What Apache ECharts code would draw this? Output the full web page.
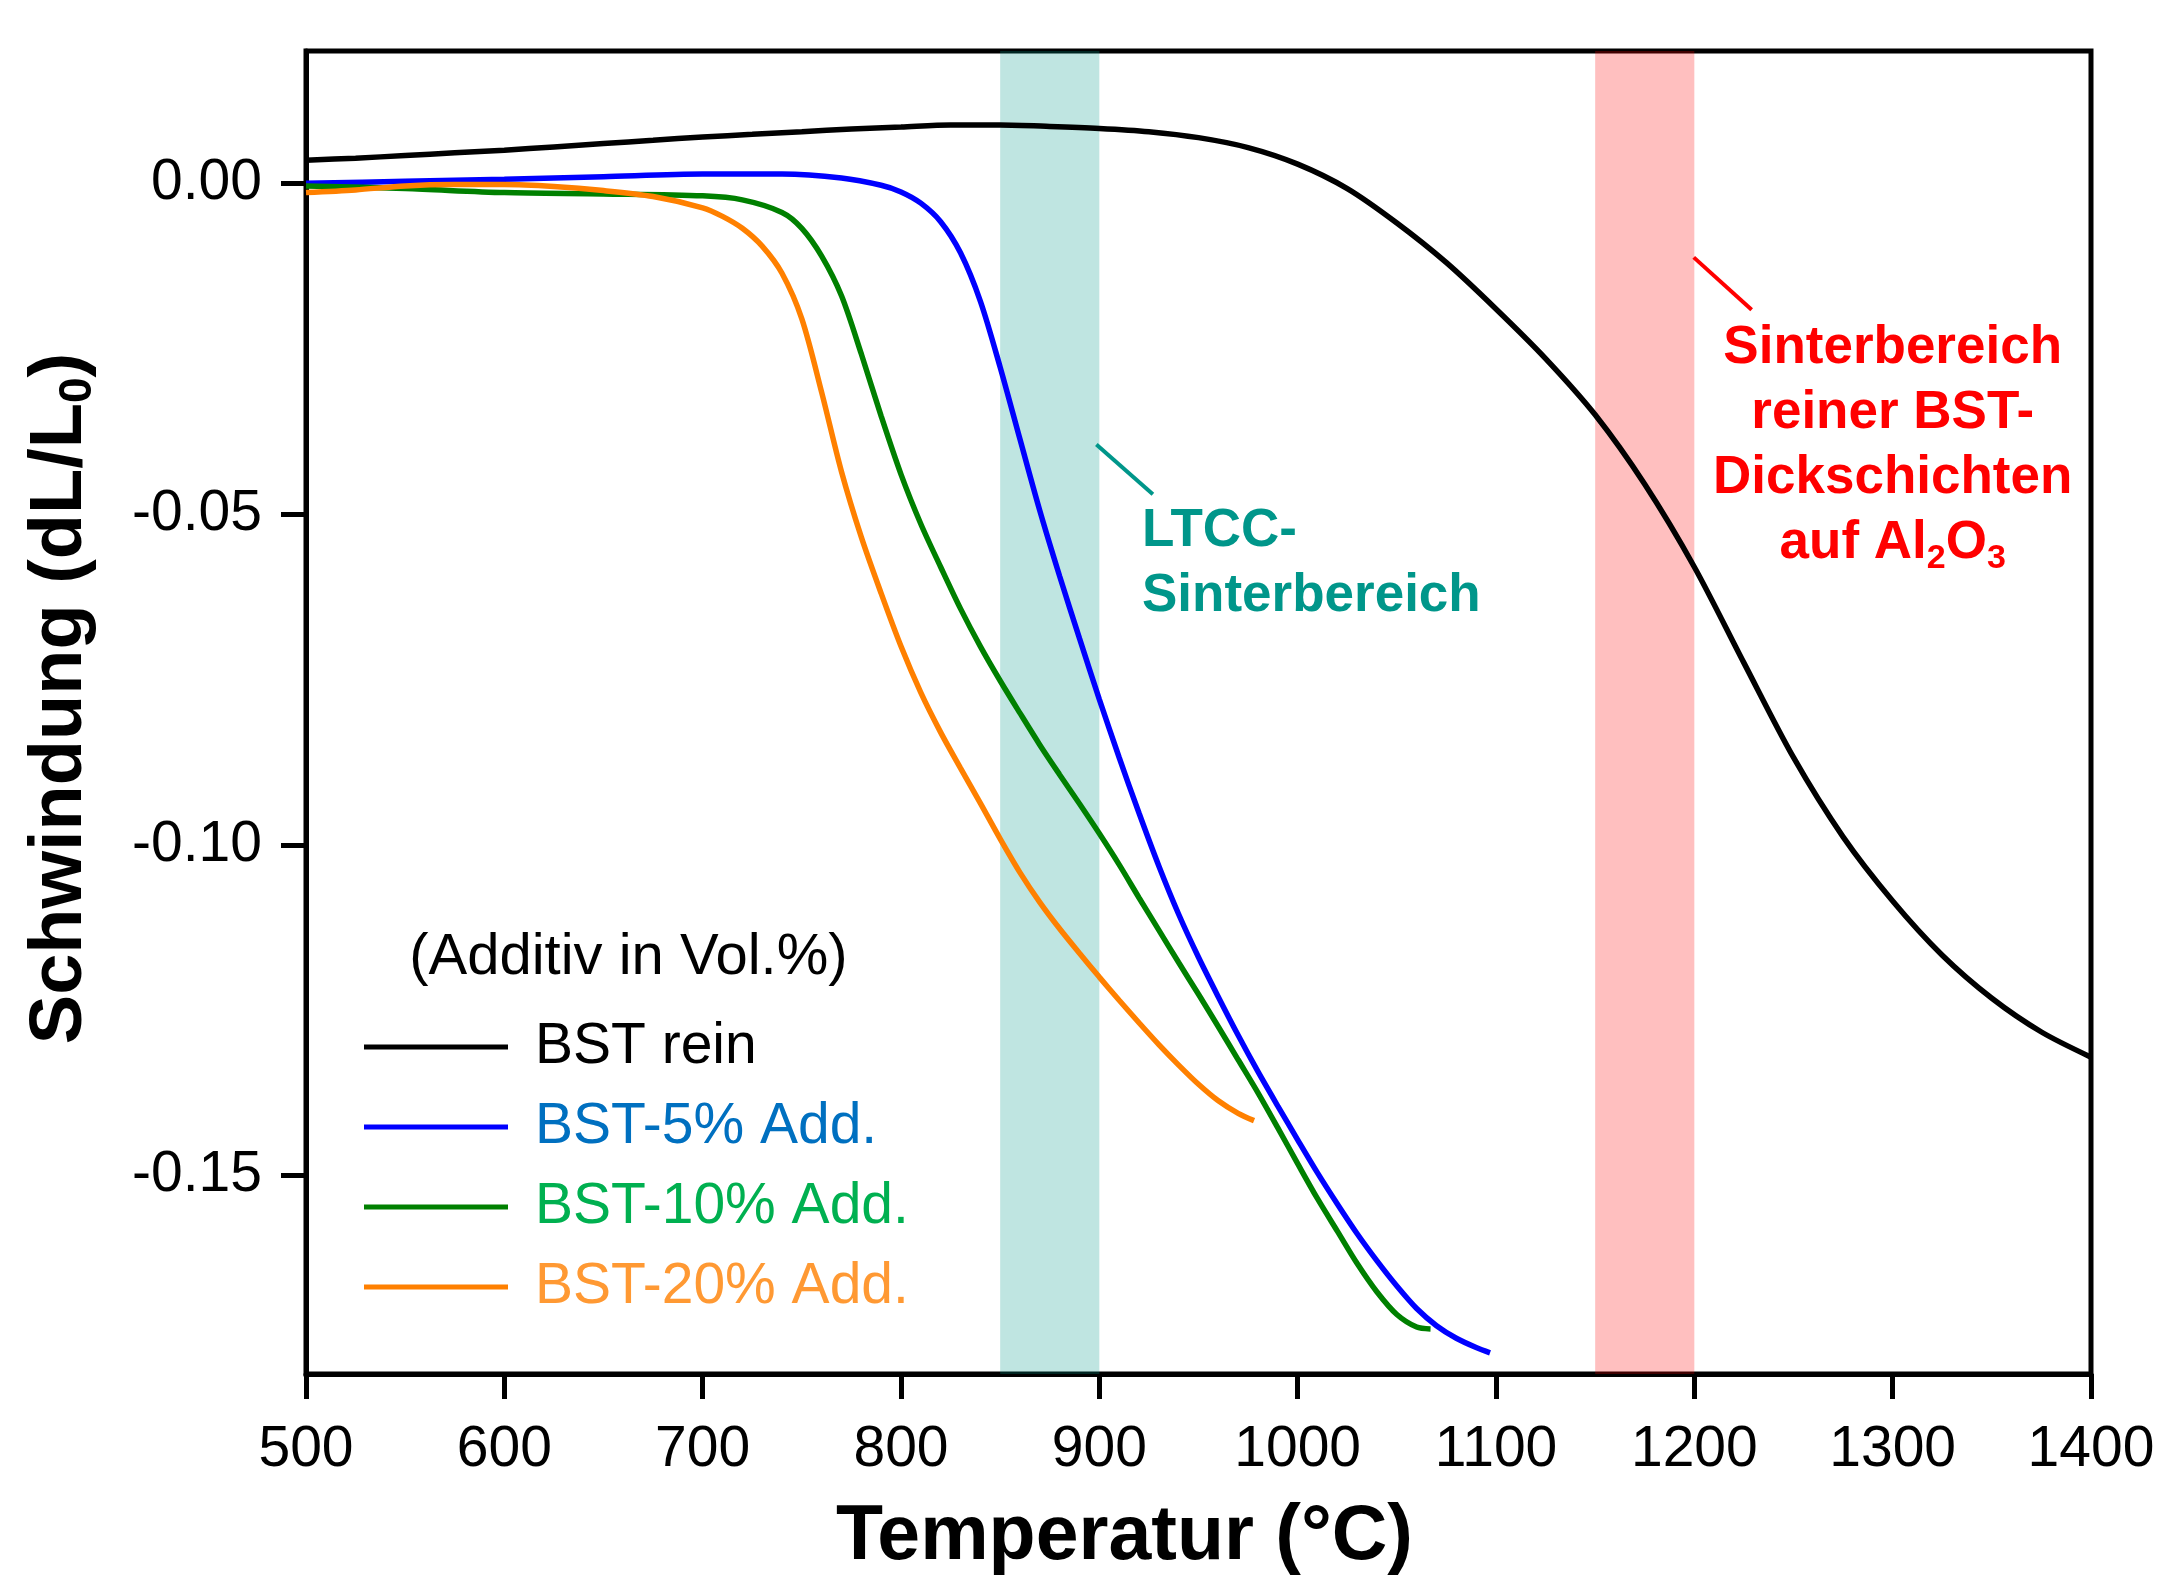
<!DOCTYPE html>
<html lang="de">
<head>
    <meta charset="UTF-8">
    <title>Schwindung</title>
    <script src="https://cdn.jsdelivr.net/npm/echarts@6/dist/echarts.min.js"></script>
    <style>
        body { margin: 0; background: #fff; }
    </style>
</head>
<body>
    <div id="main" style="width: 2163px;height:1576px;"></div>
    <script>
// Messwerte (Temperatur in °C, Schwindung dL/L0)
var tempRein = [500, 525, 550, 575, 600, 625, 650, 675, 700, 725, 750, 775, 800, 825, 850, 875, 900, 925, 950, 975, 1000, 1025, 1050, 1075, 1100, 1125, 1150, 1175, 1200, 1225, 1250, 1275, 1300, 1325, 1350, 1375, 1400];
var valRein = [0.0035, 0.0038, 0.0042, 0.0046, 0.0050, 0.0055, 0.0060, 0.0065, 0.0070, 0.0074, 0.0078, 0.0082, 0.0085, 0.0088, 0.0088, 0.0086, 0.0083, 0.0078, 0.0069, 0.0054, 0.0029, -0.0008, -0.0060, -0.0120, -0.0190, -0.0265, -0.0350, -0.0455, -0.0580, -0.0725, -0.0868, -0.0988, -0.1085, -0.1167, -0.1232, -0.1283, -0.1321];

var temp5 = [500, 550, 600, 650, 700, 740, 770, 790, 800, 810, 820, 830, 840, 850, 860, 870, 880, 890, 900, 910, 920, 930, 940, 950, 960, 970, 980, 990, 1000, 1010, 1020, 1030, 1040, 1050, 1060, 1070, 1080, 1090, 1097];
var val5 = [0.0000, 0.0003, 0.0006, 0.0010, 0.0014, 0.0014, 0.0008, -0.0003, -0.0013, -0.0030, -0.0058, -0.0105, -0.0178, -0.0278, -0.0387, -0.0495, -0.0594, -0.0688, -0.0780, -0.0868, -0.0952, -0.1032, -0.1105, -0.1170, -0.1230, -0.1288, -0.1343, -0.1395, -0.1446, -0.1496, -0.1543, -0.1588, -0.1629, -0.1667, -0.1701, -0.1727, -0.1746, -0.1760, -0.1768];

var temp10 = [500, 550, 600, 650, 700, 720, 740, 750, 760, 770, 780, 790, 800, 810, 820, 830, 840, 850, 860, 870, 880, 890, 900, 910, 920, 930, 940, 950, 960, 970, 980, 990, 1000, 1010, 1020, 1030, 1040, 1050, 1060, 1067];
var val10 = [-0.0004, -0.0008, -0.0014, -0.0016, -0.0019, -0.0025, -0.0044, -0.0068, -0.0110, -0.0170, -0.0258, -0.0352, -0.0440, -0.0515, -0.0580, -0.0643, -0.0700, -0.0752, -0.0801, -0.0849, -0.0894, -0.0938, -0.0983, -0.1030, -0.1080, -0.1129, -0.1178, -0.1226, -0.1275, -0.1325, -0.1375, -0.1428, -0.1482, -0.1535, -0.1584, -0.1633, -0.1676, -0.1710, -0.1729, -0.1732];

var temp20 = [500, 525, 550, 575, 600, 625, 650, 675, 700, 710, 720, 730, 740, 750, 760, 770, 780, 790, 800, 810, 820, 830, 840, 850, 860, 870, 880, 890, 900, 910, 920, 930, 940, 950, 960, 970, 978];
var val20 = [-0.0014, -0.0010, -0.0004, -0.0002, -0.0002, -0.0005, -0.0011, -0.0020, -0.0037, -0.0050, -0.0068, -0.0095, -0.0136, -0.0205, -0.0316, -0.0436, -0.0535, -0.0620, -0.0700, -0.0770, -0.0830, -0.0884, -0.0937, -0.0991, -0.1042, -0.1087, -0.1127, -0.1164, -0.1200, -0.1235, -0.1269, -0.1302, -0.1333, -0.1362, -0.1387, -0.1406, -0.1417];

var seriesNames = ['BST rein', 'BST-5% Add.', 'BST-10% Add.', 'BST-20% Add.'];
var xTicks = [500, 600, 700, 800, 900, 1000, 1100, 1200, 1300, 1400];
var yTicks = [-0.15, -0.10, -0.05, 0.00];
var ltccRange = [850, 900];
var bstRange = [1150, 1200];

function pairs(t, v) {
    var out = [];
    for (var i = 0; i < t.length; i++) out.push([t[i], v[i]]);
    return out;
}

var font = 'Liberation Sans, Arial, sans-serif';
var lineColors = ['#000000', '#0000ff', '#008000', '#ff8000'];
var textColors = ['#000000', '#0070c0', '#00b050', '#ff9933'];
var allData = [pairs(tempRein, valRein), pairs(temp5, val5), pairs(temp10, val10), pairs(temp20, val20)];

var myChart = echarts.init(document.getElementById('main'));

var series = seriesNames.map(function (n, i) {
    return {
        name: n,
        type: 'line',
        data: allData[i],
        showSymbol: false,
        symbol: 'none',
        smooth: 0.3,
        z: 2,
        lineStyle: { color: lineColors[i], width: 5.5 },
        itemStyle: { color: lineColors[i] }
    };
});

// Sinterbereiche liegen halbtransparent über den Kurven
series.push({
    name: 'bereiche',
    type: 'line',
    data: [],
    z: 5,
    silent: true,
    markArea: {
        silent: true,
        data: [
            [{ xAxis: ltccRange[0], itemStyle: { color: 'rgba(0,150,136,0.25)' } }, { xAxis: ltccRange[1] }],
            [{ xAxis: bstRange[0], itemStyle: { color: 'rgba(255,0,0,0.25)' } }, { xAxis: bstRange[1] }]
        ]
    },
    markLine: {
        silent: true,
        symbol: ['none', 'none'],
        label: { show: false },
        data: [
            [{ coord: [898.5, -0.0395], lineStyle: { color: '#00968a', width: 4, type: 'solid' } }, { coord: [927, -0.047] }],
            [{ coord: [1199.7, -0.0112], lineStyle: { color: '#ff0000', width: 4, type: 'solid' } }, { coord: [1228.9, -0.0191] }]
        ]
    }
});

var option = {
    animation: false,
    backgroundColor: '#fff',
    grid: {
        left: 306, right: 72, top: 51, bottom: 202,
        outerBoundsMode: 'none',
        show: true, borderColor: '#000', borderWidth: 5
    },
    legend: {
        orient: 'vertical',
        left: 359,
        top: 1012,
        icon: 'rect',
        itemWidth: 144,
        itemHeight: 5,
        itemGap: 20,
        data: seriesNames.map(function (n, i) {
            return { name: n, textStyle: { color: textColors[i] } };
        }),
        textStyle: { fontFamily: font, fontSize: 57, lineHeight: 60, padding: [0, 0, 0, 22] }
    },
    xAxis: {
        type: 'value',
        min: 500, max: 1400, interval: 100,
        name: 'Temperatur (°C)',
        nameLocation: 'middle',
        nameGap: 125,
        nameTextStyle: { fontFamily: font, fontSize: 77, fontWeight: 'bold', color: '#000', padding: [0, 148, 0, 0] },
        axisLine: { onZero: false, lineStyle: { color: '#000', width: 5 } },
        axisTick: { length: 25, lineStyle: { width: 5, color: '#000' }, customValues: xTicks },
        axisLabel: {
            fontFamily: font, fontSize: 57, color: '#000', margin: 48, customValues: xTicks,
            formatter: function (v) { return String(v); }
        },
        splitLine: { show: false }
    },
    yAxis: {
        type: 'value',
        min: -0.18, max: 0.02,
        name: '{b|Schwindung (dL/L}{s|0}{b|)}',
        nameLocation: 'middle',
        nameGap: 205,
        nameRotate: 90,
        nameTextStyle: {
            padding: [0, 0, 0, 28],
            rich: {
                b: { fontFamily: font, fontSize: 74, fontWeight: 'bold', color: '#000', lineHeight: 80 },
                s: { fontFamily: font, fontSize: 46, fontWeight: 'bold', color: '#000', lineHeight: 30, verticalAlign: 'bottom' }
            }
        },
        axisLine: { onZero: false, lineStyle: { color: '#000', width: 5 } },
        axisTick: { length: 25, lineStyle: { width: 5, color: '#000' }, customValues: yTicks },
        axisLabel: {
            fontFamily: font, fontSize: 57, color: '#000', margin: 44,
            customValues: yTicks,
            formatter: function (v) { return v.toFixed(2); }
        },
        splitLine: { show: false }
    },
    series: series
};

myChart.setOption(option);

// Beschriftungen, an Datenkoordinaten verankert
var pLtcc = myChart.convertToPixel({ gridIndex: 0 }, [921.5, -0.0526]);
var pBst = myChart.convertToPixel({ gridIndex: 0 }, [1300, -0.0246]);
var pLeg = myChart.convertToPixel({ gridIndex: 0 }, [552, -0.1178]);

myChart.setOption({
    graphic: [
        {
            type: 'text', left: pLeg[0], top: pLeg[1] - 34,
            style: { text: '(Additiv in Vol.%)', font: '58px ' + font, fill: '#000' }
        },
        {
            type: 'text', x: pLtcc[0], y: pLtcc[1] - 32,
            style: {
                text: 'LTCC-\nSinterbereich',
                font: 'bold 53px ' + font, fill: '#00968a', lineHeight: 65, align: 'left'
            }
        },
        {
            type: 'text', x: pBst[0], y: pBst[1] - 30,
            style: {
                text: '{r|Sinterbereich}\n{r|reiner BST-}\n{r|Dickschichten}\n{r|auf Al}{s|2}{r|O}{s|3}',
                align: 'center',
                rich: {
                    r: { font: 'bold 53px ' + font, fill: '#ff0000', color: '#ff0000', lineHeight: 65 },
                    s: { font: 'bold 34px ' + font, fill: '#ff0000', color: '#ff0000', lineHeight: 26, verticalAlign: 'bottom' }
                }
            }
        }
    ]
});
    </script>
</body>
</html>
